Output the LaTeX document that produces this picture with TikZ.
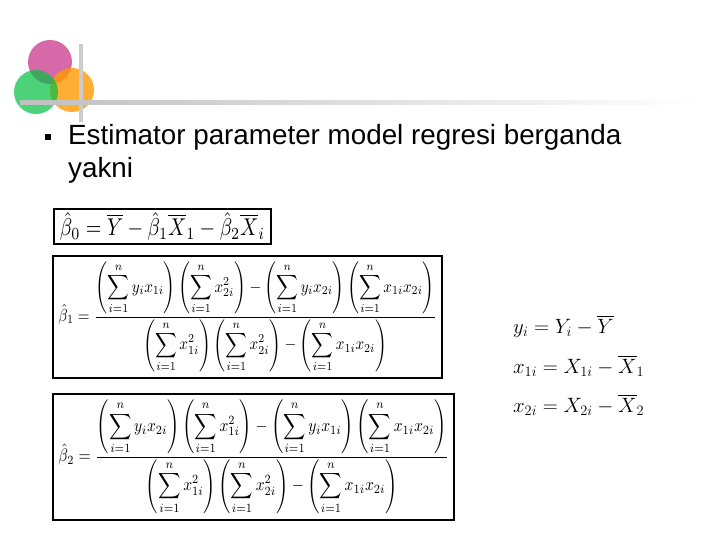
\documentclass[tikz,border=0pt]{standalone}
\usepackage{fontspec}
\setmainfont{Liberation Sans}
\usepackage{amsmath}
\usepackage{graphicx}
\begin{document}
\begin{tikzpicture}[x=1pt,y=-1pt,
  fbox/.style={draw=black,line width=2pt},
  txt/.style={anchor=west,inner sep=0pt,font=\fontsize{27.8}{32}\selectfont}]
\useasboundingbox (0,0) rectangle (720,540);
% decoration
\fill[magenta!60!violet,opacity=0.7] (50,62) circle (22);
\fill[orange!80!yellow,opacity=0.8] (72,90) circle (22);
\fill[teal!50!green,opacity=0.7] (36,92) circle (22);
\fill[gray!40] (79,44) rectangle (83,122);
\shade[left color=gray!50,right color=white] (20,101) rectangle (700,105);
% bullet + text
\fill[black] (45,134) rectangle (51,140);
\node[txt] (t1) at (68,137) {Estimator parameter model regresi berganda};
\node[txt] (t2) at (68,170) {yakni};
% box 1
\draw[fbox] (54,209) rectangle (271,244);
\node (f1) at (162.5,226.5) {\resizebox*{205pt}{28pt}{$\hat\beta_0=\overline{Y}-\hat\beta_1\overline{X}_1-\hat\beta_2\overline{X}_i$}};
% box 2
\draw[fbox] (53,256) rectangle (442,378);
\node (f2) at (247.5,317) {\resizebox*{378pt}{110pt}{$\hat\beta_1=\dfrac{\left(\displaystyle\sum_{i=1}^n y_ix_{1i}\right)\left(\displaystyle\sum_{i=1}^n x_{2i}^2\right)-\left(\displaystyle\sum_{i=1}^n y_ix_{2i}\right)\left(\displaystyle\sum_{i=1}^n x_{1i}x_{2i}\right)}{\left(\displaystyle\sum_{i=1}^n x_{1i}^2\right)\left(\displaystyle\sum_{i=1}^n x_{2i}^2\right)-\left(\displaystyle\sum_{i=1}^n x_{1i}x_{2i}\right)}$}};
% box 3
\draw[fbox] (53,394) rectangle (454,520);
\node (f3) at (253.5,457) {\resizebox*{390pt}{114pt}{$\hat\beta_2=\dfrac{\left(\displaystyle\sum_{i=1}^n y_ix_{2i}\right)\left(\displaystyle\sum_{i=1}^n x_{1i}^2\right)-\left(\displaystyle\sum_{i=1}^n y_ix_{1i}\right)\left(\displaystyle\sum_{i=1}^n x_{1i}x_{2i}\right)}{\left(\displaystyle\sum_{i=1}^n x_{1i}^2\right)\left(\displaystyle\sum_{i=1}^n x_{2i}^2\right)-\left(\displaystyle\sum_{i=1}^n x_{1i}x_{2i}\right)}$}};
% right equations
\node[anchor=west,inner sep=0pt] (e1) at (513,326) {\fontsize{20}{24}\selectfont$y_i=Y_i-\overline{Y}$};
\node[anchor=west,inner sep=0pt] (e2) at (513,366) {\fontsize{20}{24}\selectfont$x_{1i}=X_{1i}-\overline{X}_1$};
\node[anchor=west,inner sep=0pt] (e3) at (513,405) {\fontsize{20}{24}\selectfont$x_{2i}=X_{2i}-\overline{X}_2$};
\end{tikzpicture}
\end{document}
